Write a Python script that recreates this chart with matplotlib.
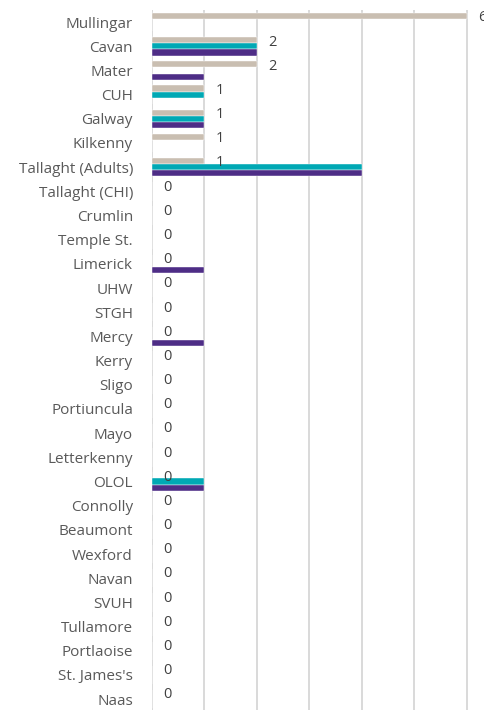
import matplotlib
matplotlib.use("Agg")

import matplotlib.pyplot as plt
import numpy as np

hospitals = [
    "Mullingar", "Cavan", "Mater", "CUH", "Galway", "Kilkenny",
    "Tallaght (Adults)", "Tallaght (CHI)", "Crumlin", "Temple St.",
    "Limerick", "UHW", "STGH", "Mercy", "Kerry", "Sligo", "Portiuncula",
    "Mayo", "Letterkenny", "OLOL", "Connolly", "Beaumont", "Wexford",
    "Navan", "SVUH", "Tullamore", "Portlaoise", "St. James's", "Naas",
]

# three series, drawn top to bottom inside each group
beige_vals = [6, 2, 2, 1, 1, 1, 1, 0, 0, 0, 0, 0, 0, 0, 0, 0, 0, 0, 0, 0, 0, 0, 0, 0, 0, 0, 0, 0, 0]
teal_vals = [0, 2, 0, 1, 1, 0, 4, 0, 0, 0, 0, 0, 0, 0, 0, 0, 0, 0, 0, 1, 0, 0, 0, 0, 0, 0, 0, 0, 0]
purple_vals = [0, 2, 1, 0, 1, 0, 4, 0, 0, 0, 1, 0, 0, 1, 0, 0, 0, 0, 0, 1, 0, 0, 0, 0, 0, 0, 0, 0, 0]

BEIGE = "#c9beb1"
TEAL = "#00a8b4"
PURPLE = "#4e2d86"
GRID = "#d9d9d9"
TEXT = "#595959"

fig = plt.figure(figsize=(4.85, 7.10), dpi=100)
ax = fig.add_axes([151.7 / 485, 0.0, (485 - 151.7) / 485, 700 / 710])

y = np.arange(len(hospitals))
h = 0.255

ax.barh(y - h, beige_vals, height=h, color=BEIGE, edgecolor="white", linewidth=0.3, zorder=3)
ax.barh(y, teal_vals, height=h, color=TEAL, edgecolor="white", linewidth=0.3, zorder=3)
ax.barh(y + h, purple_vals, height=h, color=PURPLE, edgecolor="white", linewidth=0.3, zorder=3)

for yi, v in zip(y, beige_vals):
    ax.annotate(str(v), xy=(v, yi - h + 0.08), xytext=(8.0, 0), textcoords="offset points",
                ha="left", va="center", fontsize=10.5, color="#404040",
                family="Open Sans", annotation_clip=False, zorder=4)

ax.set_xlim(0, (485 - 151.7) / 52.5)
ax.set_ylim(28.45, -0.5)
ax.set_xticks(np.arange(0, 7, 1))
ax.set_xticklabels([])
ax.set_yticks(y)
ax.set_yticklabels(hospitals, fontsize=11, color=TEXT, family="Open Sans")
ax.tick_params(axis="both", length=0)
ax.tick_params(axis="y", pad=13.5)
ax.grid(axis="x", color=GRID, linewidth=1.4, zorder=0)
for s in ax.spines.values():
    s.set_visible(False)

fig.savefig("out.png", dpi=100)
